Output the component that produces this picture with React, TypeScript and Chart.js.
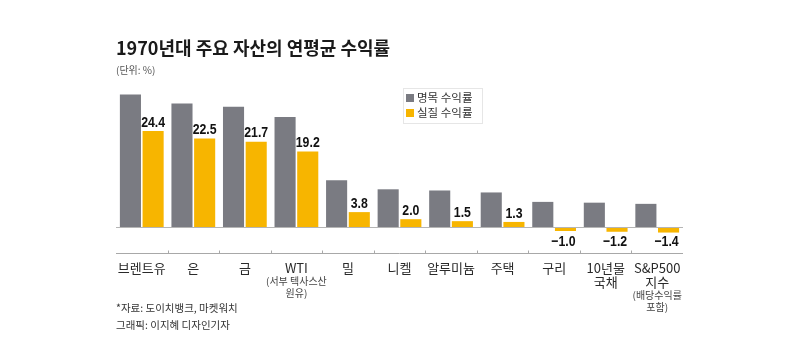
import React, { useEffect, useRef } from "react";
import { Chart, registerables } from "chart.js";

Chart.register(...registerables);

const categories = ["브렌트유", "은", "금", "WTI", "밀", "니켈", "알루미늄", "주택", "구리", "10년물 국채", "S&P500 지수"];
const mainLabelLines: string[][] = [["브렌트유"], ["은"], ["금"], ["WTI"], ["밀"], ["니켈"], ["알루미늄"], ["주택"], ["구리"], ["10년물", "국채"], ["S&P500", "지수"]];
const subLabelLines: string[][] = [[], [], [], ["(서부 텍사스산", "원유)"], [], [], [], [], [], [], ["(배당수익률", "포함)"]];
const nominalReturns = [33.7, 31.4, 30.6, 28.0, 11.9, 9.6, 9.3, 8.8, 6.4, 6.2, 5.9];
const realReturns = [24.4, 22.5, 21.7, 19.2, 3.8, 2.0, 1.5, 1.3, -1.0, -1.2, -1.4];
const realLabels = ["24.4", "22.5", "21.7", "19.2", "3.8", "2.0", "1.5", "1.3", "−1.0", "−1.2", "−1.4"];
const seriesNames = ["명목 수익률", "실질 수익률"];
const titleText = "1970년대 주요 자산의 연평균 수익률";
const unitText = "(단위: %)";
const footnotes = ["*자료: 도이치뱅크, 마켓워치", "그래픽: 이지혜 디자인기자"];

const GRAY = "#7a7b82";
const YELLOW = "#f7b500";
const FONT = "'Noto Sans CJK KR', 'Noto Sans', sans-serif";
const NUM_FONT = "'Liberation Sans', Arial, sans-serif";

function condensedText(ctx: CanvasRenderingContext2D, text: string, cx: number, cy: number, sx: number) {
  ctx.save();
  ctx.translate(cx, cy);
  ctx.scale(sx, 1);
  ctx.fillText(text, 0, 0);
  ctx.restore();
}

const decorPlugin = {
  id: "decor",
  afterDraw(chart: any) {
    const ctx = chart.ctx as CanvasRenderingContext2D;
    const x = chart.scales.x;
    const y = chart.scales.y;
    const area = chart.chartArea;
    ctx.save();

    // title
    ctx.fillStyle = "#1a1a1a";
    ctx.textBaseline = "middle";
    ctx.textAlign = "left";
    ctx.font = `bold 18px ${FONT}`;
    ctx.fillText(titleText, 116, 48);
    ctx.fillStyle = "#555";
    ctx.font = `10px ${FONT}`;
    ctx.fillText(unitText, 116, 70);

    // zero line
    const y0 = y.getPixelForValue(0);
    ctx.strokeStyle = "#b5b5b5";
    ctx.lineWidth = 1;
    ctx.beginPath();
    ctx.moveTo(area.left, Math.round(y0) + 0.5);
    ctx.lineTo(area.right, Math.round(y0) + 0.5);
    ctx.stroke();

    // bottom axis line with ticks
    const yb = Math.round(area.bottom) + 0.5;
    ctx.strokeStyle = "#a8a8a8";
    ctx.beginPath();
    ctx.moveTo(area.left, yb);
    ctx.lineTo(area.right, yb);
    const n = categories.length;
    for (let i = 1; i < n; i++) {
      const xp = Math.round((x.getPixelForValue(i - 1) + x.getPixelForValue(i)) / 2) + 0.5;
      ctx.moveTo(xp, yb);
      ctx.lineTo(xp, yb - 3);
    }
    ctx.stroke();

    // category labels
    ctx.textAlign = "center";
    for (let i = 0; i < n; i++) {
      const cx = x.getPixelForValue(i);
      let ly = 268;
      ctx.fillStyle = "#2a2a2a";
      ctx.font = `13px ${FONT}`;
      for (const line of mainLabelLines[i]) {
        ctx.fillText(line, cx, ly);
        ly += 14;
      }
      ctx.fillStyle = "#444";
      ctx.font = `10px ${FONT}`;
      ly -= 1;
      for (const line of subLabelLines[i]) {
        ctx.fillText(line, cx, ly);
        ly += 12;
      }
    }

    // value labels on real bars
    const meta = chart.getDatasetMeta(1);
    ctx.fillStyle = "#111";
    ctx.font = `bold 15px ${NUM_FONT}`;
    meta.data.forEach((bar: any, i: number) => {
      const v = realReturns[i];
      if (v >= 0) {
        ctx.textBaseline = "bottom";
        condensedText(ctx, realLabels[i], bar.x, bar.y - 1, 0.82);
      } else {
        ctx.textBaseline = "middle";
        condensedText(ctx, realLabels[i], bar.x - 2, 242, 0.82);
      }
    });

    // legend
    ctx.strokeStyle = "#e6e6e6";
    ctx.strokeRect(403.5, 88.5, 79, 35);
    ctx.textAlign = "left";
    ctx.textBaseline = "middle";
    ctx.font = `11.5px ${FONT}`;
    const colors = [GRAY, YELLOW];
    seriesNames.forEach((name, k) => {
      const ly = 98 + k * 15;
      ctx.fillStyle = colors[k];
      ctx.fillRect(406, ly - 4, 8, 8);
      ctx.fillStyle = "#333";
      ctx.fillText(name, 417, ly);
    });

    // footnotes
    ctx.fillStyle = "#333";
    ctx.font = `10.5px ${FONT}`;
    footnotes.forEach((t, k) => ctx.fillText(t, 116, 308 + k * 17));

    ctx.restore();
  },
};

export default function App() {
  const ref = useRef<HTMLCanvasElement>(null);
  useEffect(() => {
    const chart = new Chart(ref.current!, {
      type: "bar",
      data: {
        labels: categories,
        datasets: [
          { label: seriesNames[0], data: nominalReturns, backgroundColor: GRAY, barPercentage: 0.93, categoryPercentage: 0.88 },
          { label: seriesNames[1], data: realReturns, backgroundColor: YELLOW, barPercentage: 0.93, categoryPercentage: 0.88 },
        ],
      },
      plugins: [decorPlugin],
      options: {
        animation: false,
        responsive: false,
        maintainAspectRatio: false,
        events: [],
        layout: { padding: { left: 116, right: 107, top: 80, bottom: 108 } },
        plugins: { legend: { display: false }, tooltip: { enabled: false } },
        scales: {
          x: { display: false },
          y: { display: false, min: -6.6, max: 37.4 },
        },
      },
    });
    return () => chart.destroy();
  }, []);
  return (
    <div style={{ position: "fixed", left: 0, top: 0, width: 790, height: 361, background: "#fff" }}>
      <canvas ref={ref} width={790} height={361} style={{ width: 790, height: 361, display: "block" }} />
    </div>
  );
}
